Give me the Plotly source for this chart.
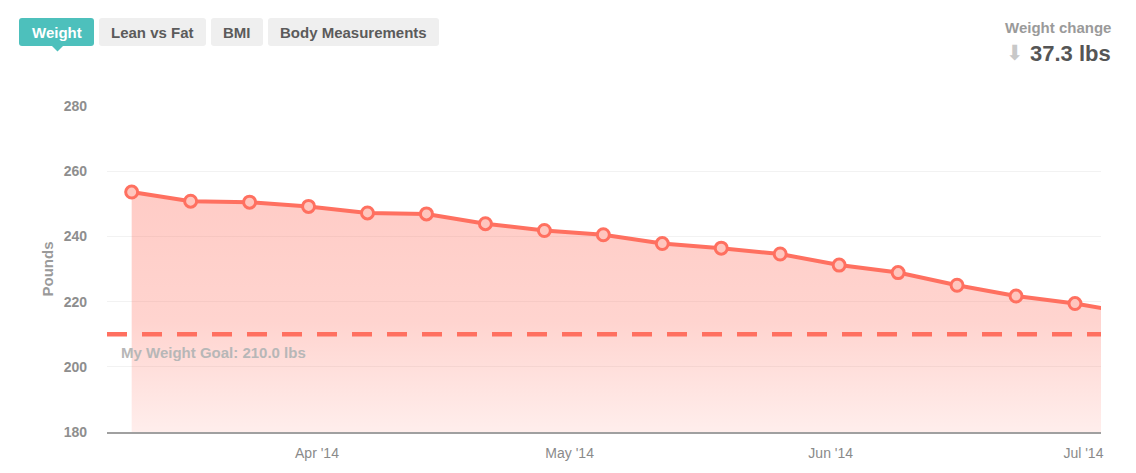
import plotly.graph_objects as go

# weekly weigh-ins (last one is just past the visible range)
dates = ["2014-03-10", "2014-03-17", "2014-03-24", "2014-03-31", "2014-04-07",
         "2014-04-14", "2014-04-21", "2014-04-28", "2014-05-05", "2014-05-12",
         "2014-05-19", "2014-05-26", "2014-06-02", "2014-06-09", "2014-06-16",
         "2014-06-23", "2014-06-30", "2014-07-07"]
weights = [253.6, 250.8, 250.5, 249.2, 247.2, 246.9, 243.9, 241.8, 240.5, 237.8,
           236.4, 234.6, 231.2, 228.9, 225.0, 221.7, 219.4, 216.3]
goal = 210.0
change = 37.3
tabs = ["Weight", "Lean vs Fat", "BMI", "Body Measurements"]
y_ticks = [180, 200, 220, 240, 260, 280]

# page has an 8px body margin, so the figure starts at (8, 8) on screen
OFF = 8
W, H = 1136 - OFF, 473 - OFF
L, R, T, B = 107 - OFF, 35, 106 - OFF, 41
PW, PH = W - L - R, H - T - B

LINE = "#ff7060"
FONT = "Liberation Sans, Arial, sans-serif"


# screen pixel -> paper coords
def px(x):
    return (x - OFF - L) / PW


def py(y):
    return (H - B - (y - OFF)) / PH


def rounded(x0, y0, x1, y1, r=3):
    rx, ry = r / PW, r / PH
    a, b, c, d = px(x0), py(y1), px(x1), py(y0)
    return (f"M{a+rx},{b} L{c-rx},{b} Q{c},{b} {c},{b+ry} L{c},{d-ry} Q{c},{d} {c-rx},{d} "
            f"L{a+rx},{d} Q{a},{d} {a},{d-ry} L{a},{b+ry} Q{a},{b} {a+rx},{b} Z")


def label(x, y, text, size, color, xanchor="center", family=FONT):
    return dict(xref="paper", yref="paper", x=px(x), y=py(y), xanchor=xanchor, yanchor="middle",
                text=text, showarrow=False, font=dict(size=size, color=color, family=family))


fig = go.Figure()
fig.add_trace(go.Scatter(
    x=dates, y=weights, mode="lines+markers",
    line=dict(color=LINE, width=4),
    marker=dict(size=12, color="#ffc6be", line=dict(color=LINE, width=3)),
    fill="tozeroy",
    fillgradient=dict(type="vertical", start=180, stop=255,
                      colorscale=[[0, "rgba(255,112,96,0.12)"], [0.45, "rgba(255,112,96,0.3)"],
                                  [1, "rgba(255,112,96,0.36)"]]),
    hoverinfo="x+y",
))

shapes = [dict(type="line", xref="paper", yref="y", x0=0, x1=1, y0=goal, y1=goal,
               line=dict(color=LINE, width=4.5, dash="20px,15px"))]
annotations = [label(119, 352, "<b>My Weight Goal: %.1f lbs</b>" % goal, 15, "#b7b7b7", "left")]

# tab buttons above the chart
tab_pos = [(19, 94), (99, 206), (211, 263), (268, 439)]
for i, (name, (x0, x1)) in enumerate(zip(tabs, tab_pos)):
    active = i == 0
    shapes.append(dict(type="path", xref="paper", yref="paper", path=rounded(x0, 18, x1, 46),
                       fillcolor="#4dc0bc" if active else "#efefef", line=dict(width=0), layer="below"))
    annotations.append(label((x0 + x1) / 2, 32, "<b>%s</b>" % name, 15,
                             "white" if active else "#5b5b5b"))
shapes.append(dict(type="path", xref="paper", yref="paper", line=dict(width=0), fillcolor="#4dc0bc",
                   layer="below",
                   path=f"M{px(51)},{py(45)} L{px(64)},{py(45)} L{px(57.5)},{py(51.5)} Z"))

# weight change summary
annotations += [
    label(1113, 27, "<b>Weight change</b>", 15, "#9a9a9a", "right"),
    label(1113, 53, "<b>%.1f lbs</b>" % change, 22, "#555555", "right"),
    label(1015, 53, "⬇", 21, "#c8c8c8", family="DejaVu Sans"),
]

fig.update_layout(
    width=W, height=H, margin=dict(l=L, r=R, t=T, b=B),
    plot_bgcolor="white", paper_bgcolor="white",
    font=dict(family=FONT), showlegend=False,
    shapes=shapes, annotations=annotations,
    xaxis=dict(range=["2014-03-07 01:40", "2014-07-03 02:10"], showgrid=False,
               tickformat="%b '%y", dtick="M1", tick0="2014-01-01",
               showline=True, linecolor="#a0a0a0", linewidth=1.5,
               tickfont=dict(size=14, color="#8a8a8a"), ticks="", ticklabelstandoff=7),
    yaxis=dict(range=[180, 280], tickvals=y_ticks, showgrid=True, gridcolor="#f2f2f2",
               zeroline=False, showline=False, ticks="",
               ticktext=["<b>%d</b>" % v for v in y_ticks],
               tickfont=dict(size=14, color="#8e8e8e"), ticklabelstandoff=19,
               title=dict(text="<b>Pounds</b>", font=dict(size=15, color="#9a9a9a"), standoff=6)),
)

fig.write_html("out.html")
